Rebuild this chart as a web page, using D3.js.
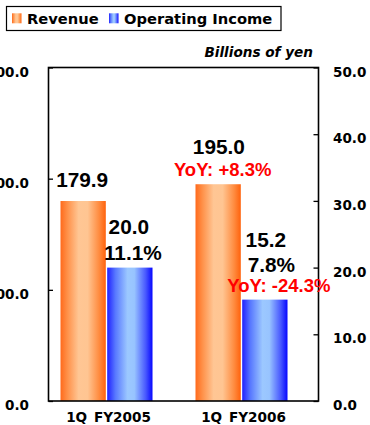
<!DOCTYPE html>
<html>
<head>
<meta charset="utf-8">
<script src="https://cdn.jsdelivr.net/npm/d3@7"></script>
<style>
  html, body { margin: 0; padding: 0; background: #fff; }
  svg { display: block; }
</style>
</head>
<body>
<div id="chart"></div>
<script>
// Quarterly results, billions of yen
const categories = ["1Q FY2005", "1Q FY2006"];
const seriesNames = ["Revenue", "Operating Income"];
const revenue = [179.9, 195.0];
const operatingIncome = [20.0, 15.2];
const operatingMargin = ["11.1%", "7.8%"];
const revenueYoY = [null, "YoY: +8.3%"];
const incomeYoY = [null, "YoY: -24.3%"];
const leftTicks = [0, 100, 200, 300];
const rightTicks = [0, 10, 20, 30, 40, 50];
const unitLabel = "Billions of yen";

const W = 370, H = 425;
const plot = { left: 48.5, right: 318.5, top: 67.5, bottom: 401 };

const svg = d3.select("#chart").append("svg")
  .attr("width", W).attr("height", H);

const labelFont = "'DejaVu Sans', Verdana, sans-serif";
const valueFont = "'Liberation Sans', Arial, Helvetica, sans-serif";

// Gradients for the bar faces
const defs = svg.append("defs");
function gradient(id, stops) {
  const g = defs.append("linearGradient").attr("id", id)
    .attr("x1", "0%").attr("x2", "100%").attr("y1", "0%").attr("y2", "0%");
  stops.forEach(([o, c]) => g.append("stop").attr("offset", o).attr("stop-color", c));
}
gradient("gradRevenue", [
  [0, "#ff6a1c"], [0.15, "#ff9048"], [0.4, "#ffc694"], [0.6, "#ffc592"],
  [0.85, "#ff8c40"], [1, "#ff620c"]
]);
gradient("gradIncome", [
  [0, "#2020ff"], [0.18, "#5878ff"], [0.45, "#9cc8ff"], [0.6, "#98c4ff"],
  [0.85, "#4858ff"], [1, "#0606ff"]
]);
const fills = ["url(#gradRevenue)", "url(#gradIncome)"];

// Scales
const x = d3.scaleBand().domain(categories).range([plot.left, plot.right]);
const inner = d3.scaleBand().domain(seriesNames).range([12, 104]).paddingInner(0.03);
const yL = d3.scaleLinear().domain([0, 300]).range([plot.bottom, plot.top]);
const yR = d3.scaleLinear().domain([0, 50]).range([plot.bottom, plot.top]);

// Bars
const rows = categories.map((c, i) => ({
  c, i,
  bars: [
    { s: seriesNames[0], v: revenue[i], y: yL(revenue[i]) },
    { s: seriesNames[1], v: operatingIncome[i], y: yR(operatingIncome[i]) }
  ]
}));

const groups = svg.append("g").selectAll("g").data(rows).join("g")
  .attr("transform", d => `translate(${x(d.c)},0)`);

groups.selectAll("rect").data(d => d.bars).join("rect")
  .attr("x", d => inner(d.s))
  .attr("width", inner.bandwidth())
  .attr("y", d => d.y)
  .attr("height", d => plot.bottom - d.y)
  .attr("fill", (d, j) => fills[j]);

// Frame
svg.append("rect")
  .attr("x", plot.left).attr("y", plot.top)
  .attr("width", plot.right - plot.left).attr("height", plot.bottom - plot.top)
  .attr("fill", "none").attr("stroke", "#000").attr("stroke-width", 1.6);

// Axes
const fmt = d3.format(".1f");
const axL = svg.append("g").attr("transform", `translate(${plot.left},0)`)
  .call(d3.axisLeft(yL).tickValues(leftTicks).tickFormat(fmt)
    .tickSizeInner(-4.5).tickSizeOuter(0).tickPadding(19.5));
const axR = svg.append("g").attr("transform", `translate(${plot.right},0)`)
  .call(d3.axisRight(yR).tickValues(rightTicks).tickFormat(fmt)
    .tickSizeInner(-5).tickSizeOuter(0).tickPadding(14.5));
[axL, axR].forEach(ax => {
  ax.select(".domain").remove();
  ax.selectAll(".tick line").attr("stroke", "#000").attr("stroke-width", 1.3);
  ax.selectAll(".tick text")
    .attr("dy", 8.5)
    .attr("fill", "#000")
    .style("font-family", labelFont)
    .style("font-weight", "bold")
    .style("font-size", "13.5px");
});

// Category labels
svg.append("g").selectAll("text").data(categories).join("text")
  .attr("x", d => x(d) + 60)
  .attr("y", 421.5)
  .attr("text-anchor", "middle")
  .style("font-family", labelFont)
  .style("font-weight", "bold")
  .style("font-size", "13.6px")
  .style("word-spacing", "2px")
  .text(d => d);

// Unit label
svg.append("text")
  .attr("x", 313).attr("y", 57.3)
  .attr("text-anchor", "end")
  .style("font-family", labelFont)
  .style("font-weight", "bold")
  .style("font-style", "italic")
  .style("font-size", "13.6px")
  .text(unitLabel);

// Value annotations above each bar
function addLabel(g, xPos, yPos, text, color, size) {
  g.append("text")
    .attr("x", xPos).attr("y", yPos)
    .attr("text-anchor", "middle")
    .attr("fill", color)
    .style("font-family", valueFont)
    .style("font-weight", "bold")
    .style("font-size", size)
    .text(text);
}
const ann = svg.append("g");
rows.forEach(r => {
  const x0 = x(r.c);
  const rev = r.bars[0], inc = r.bars[1];
  const rc = x0 + inner(rev.s) + inner.bandwidth() / 2;
  const ic = x0 + inner(inc.s) + inner.bandwidth() / 2;
  const rYoY = revenueYoY[r.i], iYoY = incomeYoY[r.i];

  // Revenue
  if (rYoY) {
    addLabel(ann, rc + 4.5, rev.y - 8.3, rYoY, "#ff0000", "18.5px");
    addLabel(ann, rc + 0.7, rev.y - 30.7, fmt(rev.v), "#000", "20.8px");
  } else {
    addLabel(ann, rc - 1, rev.y - 14, fmt(rev.v), "#000", "20.8px");
  }

  // Operating income and margin
  let base = inc.y - 7.7;
  if (iYoY) {
    addLabel(ann, ic + 14, inc.y - 7.3, iYoY, "#ff0000", "18.5px");
    base = inc.y - 27.7;
    addLabel(ann, ic + 6.5, base, operatingMargin[r.i], "#000", "20.8px");
    addLabel(ann, ic + 1, base - 25, fmt(inc.v), "#000", "20.8px");
  } else {
    addLabel(ann, ic + 3, base, operatingMargin[r.i], "#000", "20.8px");
    addLabel(ann, ic - 1, base - 26, fmt(inc.v), "#000", "20.8px");
  }
});

// Legend
const legend = svg.append("g");
legend.append("rect")
  .attr("x", 6.5).attr("y", 6.5).attr("width", 274.5).attr("height", 24)
  .attr("fill", "#fff").attr("stroke", "#000").attr("stroke-width", 1.2);
const legendX = [[12, 27], [109, 124]];
seriesNames.forEach((s, j) => {
  legend.append("rect")
    .attr("x", legendX[j][0]).attr("y", 13.3)
    .attr("width", 9.5).attr("height", 10)
    .attr("fill", fills[j]);
  legend.append("text")
    .attr("x", legendX[j][1]).attr("y", 24)
    .style("font-family", labelFont)
    .style("font-weight", "bold")
    .style("font-size", "14.7px")
    .text(s);
});
</script>
</body>
</html>
